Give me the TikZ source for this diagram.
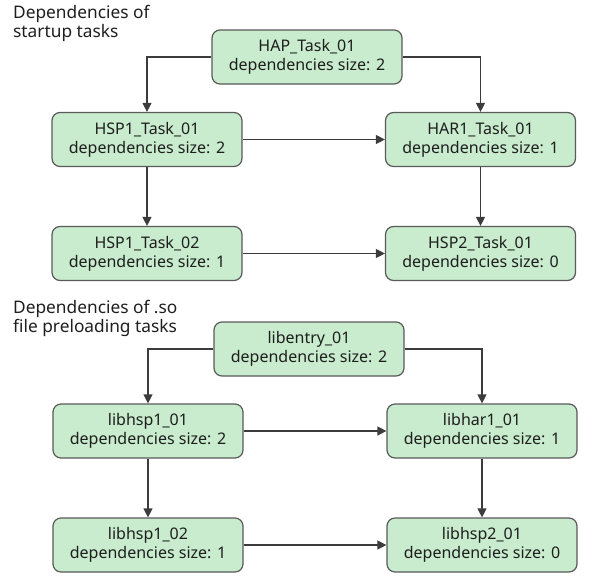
\documentclass[tikz,border=0pt]{standalone}
\usepackage{fontspec}
\setmainfont{Noto Sans}
\usetikzlibrary{arrows.meta}
\definecolor{boxfill}{RGB}{200,236,205}
\definecolor{boxline}{RGB}{90,90,90}
\definecolor{conn}{RGB}{60,60,60}
\definecolor{txt}{RGB}{30,30,30}
\tikzset{
  taskbox/.style={draw=boxline, fill=boxfill, line width=1.2pt, rounded corners=8pt,
    minimum width=190pt, minimum height=54pt, inner sep=0pt, align=center,
    text=txt, font=\fontsize{16}{19}\selectfont},
  conn/.style={draw=conn, line width=1.2pt, -{Triangle[length=9pt,width=9pt]}},
  ttl/.style={anchor=north west, align=left, inner sep=0pt, text=txt,
    font=\fontsize{17.3}{19.5}\selectfont}
}
\begin{document}
\begin{tikzpicture}[x=1pt,y=-1pt]
\useasboundingbox (0,0) rectangle (597,582);
% top group
\node[ttl] (t1) at (13,5) {Dependencies of\\startup tasks};
\node[taskbox] (hap) at (307,57) {HAP\_Task\_01\\dependencies size: 2};
\node[taskbox] (hspa) at (147,139.5) {HSP1\_Task\_01\\dependencies size: 2};
\node[taskbox] (hara) at (480.5,139.5) {HAR1\_Task\_01\\dependencies size: 1};
\node[taskbox] (hspb) at (147,253.5) {HSP1\_Task\_02\\dependencies size: 1};
\node[taskbox] (hspc) at (480.5,253.5) {HSP2\_Task\_01\\dependencies size: 0};
\draw[conn] (hap.west) -| (hspa.north);
\draw[conn] (hap.east) -| (hara.north);
\draw[conn] (hspa.east) -- (hara.west);
\draw[conn] (hspa.south) -- (hspb.north);
\draw[conn] (hara.south) -- (hspc.north);
\draw[conn] (hspb.east) -- (hspc.west);
% bottom group
\node[ttl] (t2) at (13,300) {Dependencies of .so\\file preloading tasks};
\node[taskbox] (lent) at (309,349) {libentry\_01\\dependencies size: 2};
\node[taskbox] (lhspa) at (148,431) {libhsp1\_01\\dependencies size: 2};
\node[taskbox] (lhar) at (482,431) {libhar1\_01\\dependencies size: 1};
\node[taskbox] (lhspb) at (148,545) {libhsp1\_02\\dependencies size: 1};
\node[taskbox] (lhspc) at (482,545) {libhsp2\_01\\dependencies size: 0};
\draw[conn] (lent.west) -| (lhspa.north);
\draw[conn] (lent.east) -| (lhar.north);
\draw[conn] (lhspa.east) -- (lhar.west);
\draw[conn] (lhspa.south) -- (lhspb.north);
\draw[conn] (lhar.south) -- (lhspc.north);
\draw[conn] (lhspb.east) -- (lhspc.west);
\end{tikzpicture}
\end{document}
